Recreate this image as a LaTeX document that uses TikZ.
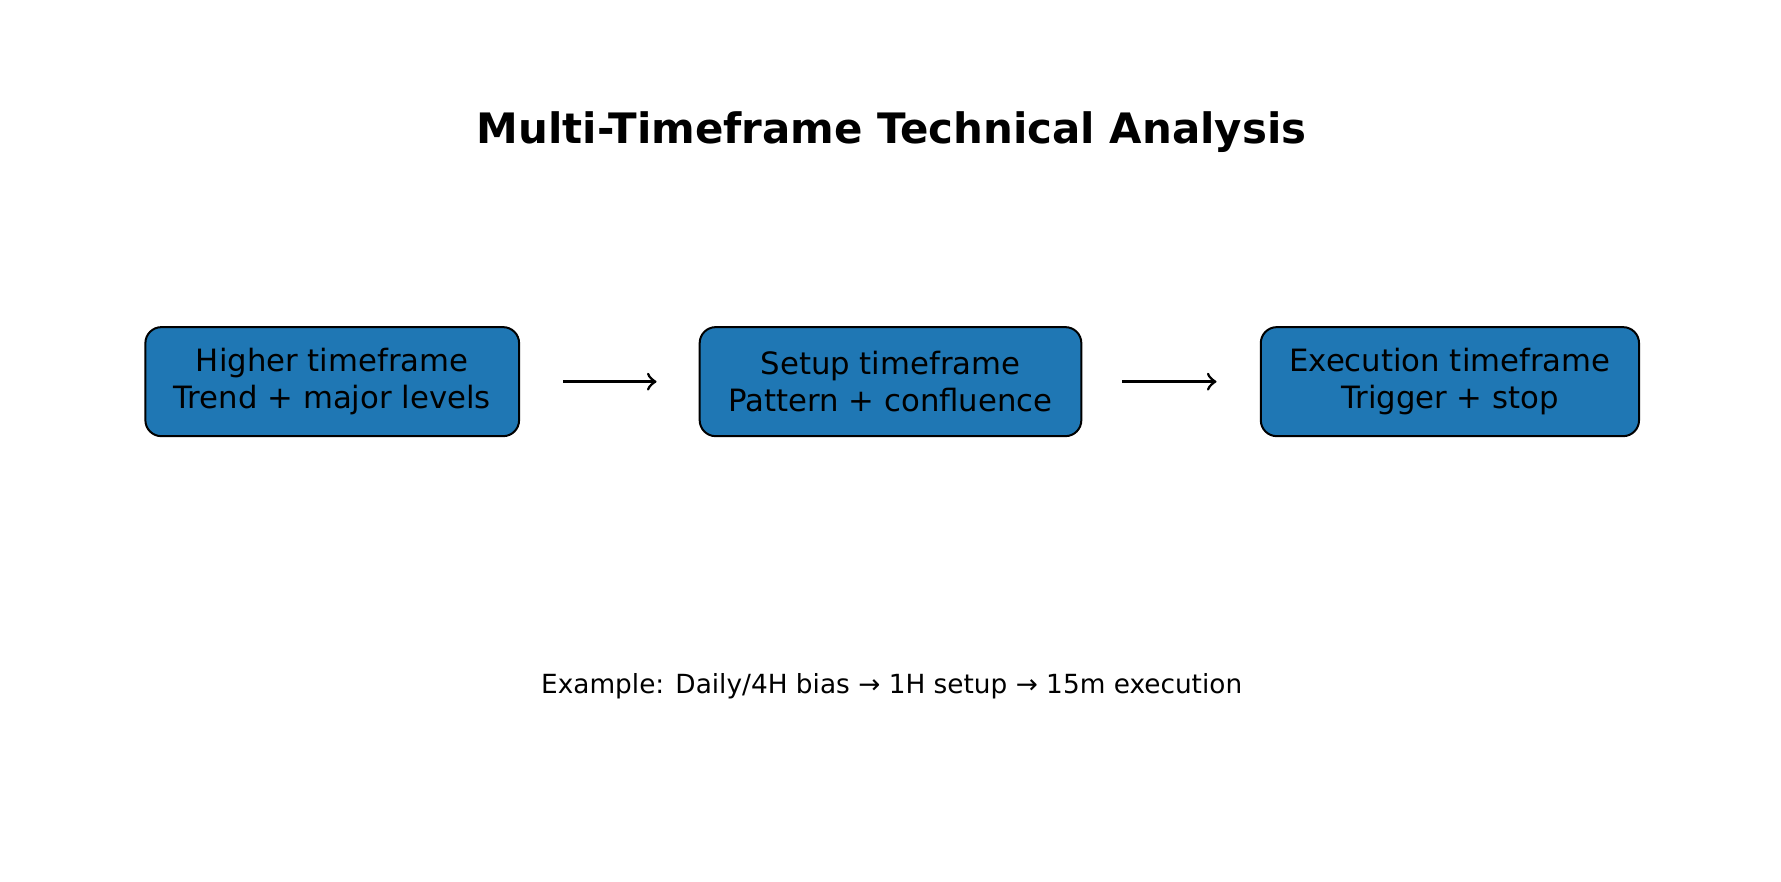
\documentclass[tikz,border=0pt]{standalone}
\usepackage{fontspec}
\setmainfont{DejaVu Sans}
\definecolor{boxblue}{HTML}{1F77B4}
\begin{document}
\begin{tikzpicture}
\tikzstyle{stage}=[draw=black,line width=0.5pt,fill=boxblue,rounded corners=4pt,align=center,font=\fontsize{7.7}{9.2}\selectfont,inner sep=0pt]
\tikzstyle{flow}=[->,line width=0.7pt,>=to]
\useasboundingbox (0,0) rectangle (15.68,-7.76);

\node (title) at (7.85,-1.16) {\fontsize{10.5}{12}\selectfont\bfseries Multi-Timeframe Technical Analysis};

\node[stage,minimum width=3.29cm,minimum height=0.96cm] (high) at (2.925,-3.36) {Higher timeframe\\Trend + major levels};
\node[stage,minimum width=3.36cm,minimum height=0.96cm] (setup) at (7.84,-3.36) {Setup timeframe\\Pattern + confluence};
\node[stage,minimum width=3.33cm,minimum height=0.96cm] (exec) at (12.765,-3.36) {Execution timeframe\\Trigger + stop};

\coordinate (a1) at (4.96,-3.36);
\coordinate (b1) at (5.78,-3.36);
\coordinate (a2) at (9.88,-3.36);
\coordinate (b2) at (10.71,-3.36);
\draw[flow] (a1) -- (b1);
\draw[flow] (a2) -- (b2);

\node (note) at (7.85,-6.04) {\fontsize{6.6}{8}\selectfont Example: Daily/4H bias → 1H setup → 15m execution};
\end{tikzpicture}
\end{document}
